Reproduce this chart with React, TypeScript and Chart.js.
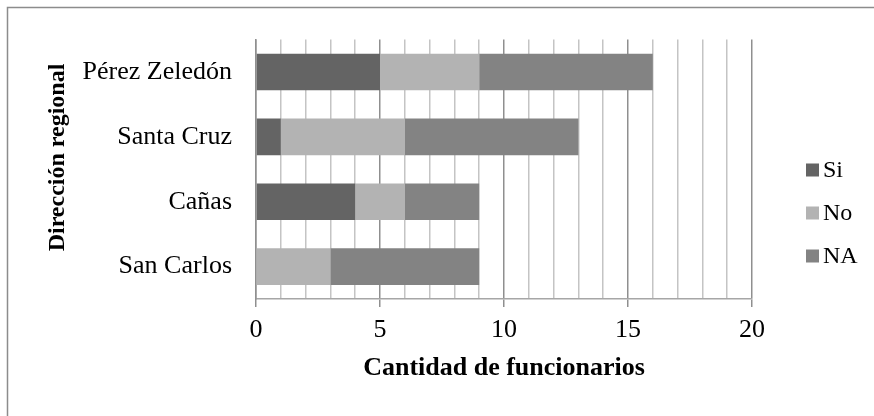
import React, { useEffect, useRef } from "react";
import { Chart, registerables } from "chart.js";

Chart.register(...registerables);

const categories = ["Pérez Zeledón", "Santa Cruz", "Cañas", "San Carlos"];
const seriesNames = ["Si", "No", "NA"];
const siValues = [5, 1, 4, 0];
const noValues = [4, 5, 2, 3];
const naValues = [7, 7, 3, 6];
const seriesColors = ["#646464", "#b3b3b3", "#838383"];
const xMin = 0;
const xMax = 20;
const xTitle = "Cantidad de funcionarios";
const yTitle = "Dirección regional";

const FONT = "'Liberation Serif', 'Times New Roman', serif";

const framePlugin = {
  id: "frame",
  beforeDraw(chart: any) {
    const ctx = chart.ctx;
    ctx.save();
    ctx.fillStyle = "#ffffff";
    ctx.fillRect(0, 0, chart.width, chart.height);
    ctx.strokeStyle = "#8c8c8c";
    ctx.lineWidth = 1.5;
    ctx.beginPath();
    ctx.moveTo(7.5, chart.height);
    ctx.lineTo(7.5, 7.5);
    ctx.lineTo(chart.width, 7.5);
    ctx.stroke();
    ctx.restore();
  },
};

const yTitlePlugin = {
  id: "yTitle",
  afterDraw(chart: any) {
    const ctx = chart.ctx;
    ctx.save();
    ctx.translate(58, 157.5);
    ctx.rotate(-Math.PI / 2);
    ctx.font = `bold 24px ${FONT}`;
    ctx.fillStyle = "#000000";
    ctx.textAlign = "center";
    ctx.textBaseline = "middle";
    ctx.fillText(yTitle, 0, 0);
    ctx.restore();
  },
};

const legendPlugin = {
  id: "customLegend",
  afterDraw(chart: any) {
    const ctx = chart.ctx;
    ctx.save();
    ctx.font = `24px ${FONT}`;
    ctx.textBaseline = "middle";
    ctx.textAlign = "left";
    chart.data.datasets.forEach((ds: any, i: number) => {
      const cy = 170 + i * 43;
      ctx.fillStyle = ds.backgroundColor;
      ctx.fillRect(806, cy - 6.5, 13, 13);
      ctx.fillStyle = "#000000";
      ctx.fillText(ds.label, 823, cy + 1);
    });
    ctx.restore();
  },
};

export default function App() {
  const ref = useRef<HTMLCanvasElement | null>(null);

  useEffect(() => {
    if (!ref.current) return;
    const values = [siValues, noValues, naValues];
    const chart = new Chart(ref.current, {
      type: "bar",
      data: {
        labels: categories,
        datasets: seriesNames.map((name, i) => ({
          label: name,
          data: values[i],
          backgroundColor: seriesColors[i],
          borderWidth: 0,
          barPercentage: 1,
          categoryPercentage: 0.565,
        })),
      },
      options: {
        indexAxis: "y",
        responsive: false,
        animation: false,
        layout: { padding: { left: 0, top: 36, right: 122, bottom: 0 } },
        plugins: {
          legend: { display: false },
          tooltip: { enabled: false },
        },
        scales: {
          x: {
            stacked: true,
            min: xMin,
            max: xMax,
            afterFit: (scale: any) => {
              scale.height = 117;
            },
            ticks: {
              stepSize: 1,
              autoSkip: false,
              maxRotation: 0,
              padding: 8,
              color: "#000000",
              font: { family: FONT, size: 26 },
              callback: (v: any) => (Number(v) % 5 === 0 ? String(v) : ""),
            },
            grid: {
              drawTicks: true,
              tickLength: 8,
              lineWidth: 1.5,
              color: (ctx: any) =>
                ctx.tick && ctx.tick.value % 5 === 0 ? "#8f8f8f" : "#c4c4c4",
              tickColor: (ctx: any) =>
                ctx.tick && ctx.tick.value % 5 === 0 ? "#8f8f8f" : "rgba(0,0,0,0)",
            },
            border: { display: true, color: "#a6a6a6", width: 1.5 },
            title: {
              display: true,
              text: xTitle,
              color: "#000000",
              font: { family: FONT, size: 26, weight: "bold" },
              padding: { top: 0, bottom: 32 },
            },
          },
          y: {
            stacked: true,
            afterFit: (scale: any) => {
              scale.width = 256;
            },
            ticks: {
              padding: 24,
              color: "#000000",
              font: { family: FONT, size: 26 },
            },
            grid: { display: false, drawTicks: false },
            border: { display: true, color: "#8f8f8f", width: 1.5 },
            title: { display: false },
          },
        },
      },
      plugins: [framePlugin, yTitlePlugin, legendPlugin],
    } as any);
    return () => chart.destroy();
  }, []);

  return (
    <div style={{ position: "fixed", left: 0, top: 0, width: 874, height: 416 }}>
      <canvas ref={ref} width={874} height={416} style={{ display: "block" }} />
    </div>
  );
}
